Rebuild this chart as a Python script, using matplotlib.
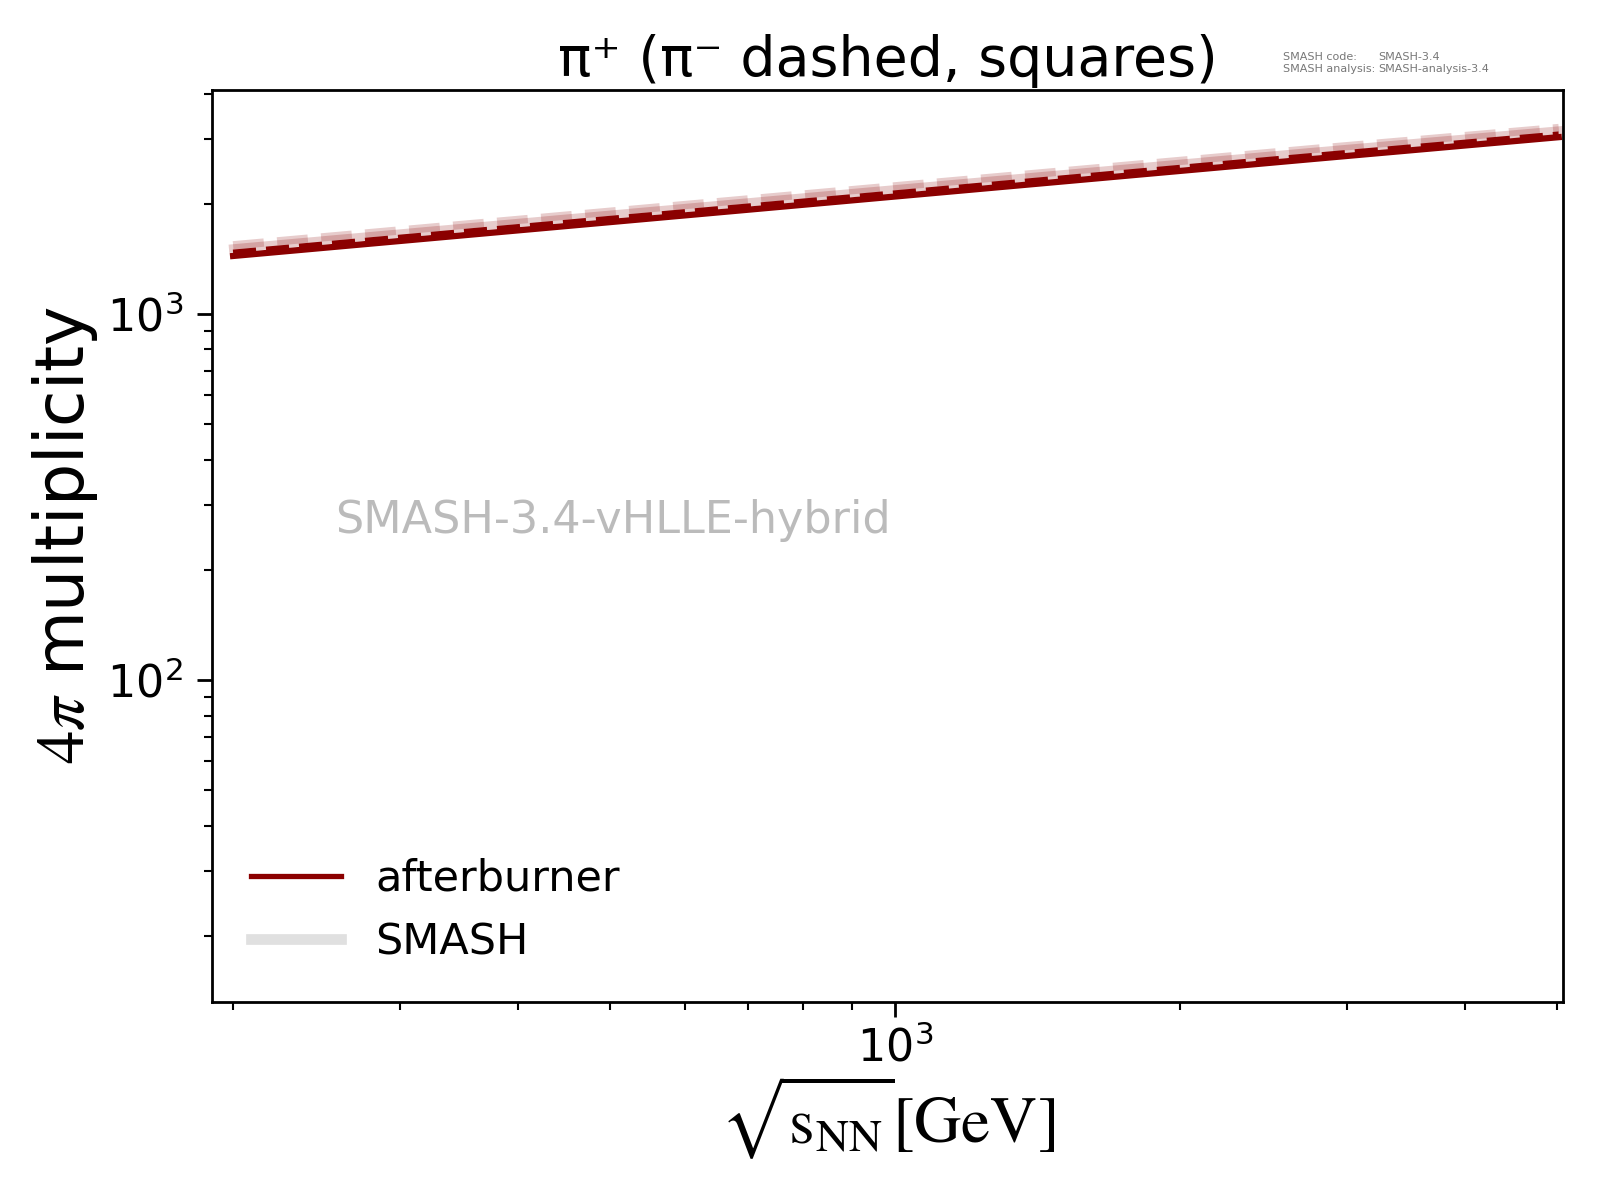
import matplotlib
matplotlib.use("Agg")
import matplotlib.pyplot as plt
from matplotlib.lines import Line2D

plt.rcParams['mathtext.fontset'] = 'stix'

# collision energies [GeV]
energies = [200, 2760, 5020]

# 4pi multiplicities
after_piplus = [1440, 2650, 3040]
after_piminus = [1470, 2700, 3090]
smash_piplus = [1510, 2770, 3170]
smash_piminus = [1540, 2820, 3220]

dark_red = '#8b0000'

fig, ax = plt.subplots(figsize=(16, 12), dpi=100)
fig.subplots_adjust(left=0.1325, right=0.977, bottom=0.165, top=0.925)

# SMASH (faint) underneath
ax.plot(energies, smash_piplus, color=dark_red, alpha=0.2, linewidth=6, linestyle='-')
ax.plot(energies, smash_piminus, color=dark_red, alpha=0.2, linewidth=6, linestyle='--')

# afterburner
ax.plot(energies, after_piplus, color=dark_red, linewidth=4.5, linestyle='-')
ax.plot(energies, after_piminus, color=dark_red, linewidth=4.5, linestyle='--')

ax.set_xscale('log')
ax.set_yscale('log')
ax.set_xlim(190, 5075)
ax.set_ylim(13.2, 4090)

ax.set_title('π⁺ (π⁻ dashed, squares)', fontsize=40, pad=10)
ax.set_xlabel(r'$\sqrt{\mathrm{s}_{\mathrm{NN}}}[\mathrm{GeV}]$', fontsize=47, labelpad=2)
ax.set_ylabel(r'$4\pi$ multiplicity', fontsize=48, labelpad=5)
ax.yaxis.label.set_y(0.512)

ax.tick_params(axis='both', which='major', labelsize=32, length=11, width=2)
ax.tick_params(axis='y', which='major', pad=10)
ax.tick_params(axis='x', which='major', pad=6)
ax.tick_params(axis='both', which='minor', length=6, width=1.5)
for spine in ax.spines.values():
    spine.set_linewidth(2)

ax.text(0.091, 0.528, 'SMASH-3.4-vHLLE-hybrid', transform=ax.transAxes,
        fontsize=32, color='#bbbbbb', va='center', ha='left')

fig.text(1283 / 1600, 1 - 72 / 1200, 'SMASH code:\nSMASH analysis:',
         fontsize=8, color='#777777', ha='left', va='baseline', linespacing=1.2)
fig.text(1378 / 1600, 1 - 72 / 1200, 'SMASH-3.4\nSMASH-analysis-3.4',
         fontsize=8, color='#777777', ha='left', va='baseline', linespacing=1.2)

handles = [Line2D([0], [0], color=dark_red, linewidth=3.8),
           Line2D([0], [0], color='#e0e0e0', linewidth=7.7)]
ax.legend(handles, ['afterburner', 'SMASH'], loc='lower left', fontsize=31,
          frameon=False, handlelength=2.1, borderaxespad=0.5)

plt.savefig('out.png', dpi=100)
plt.close(fig)
